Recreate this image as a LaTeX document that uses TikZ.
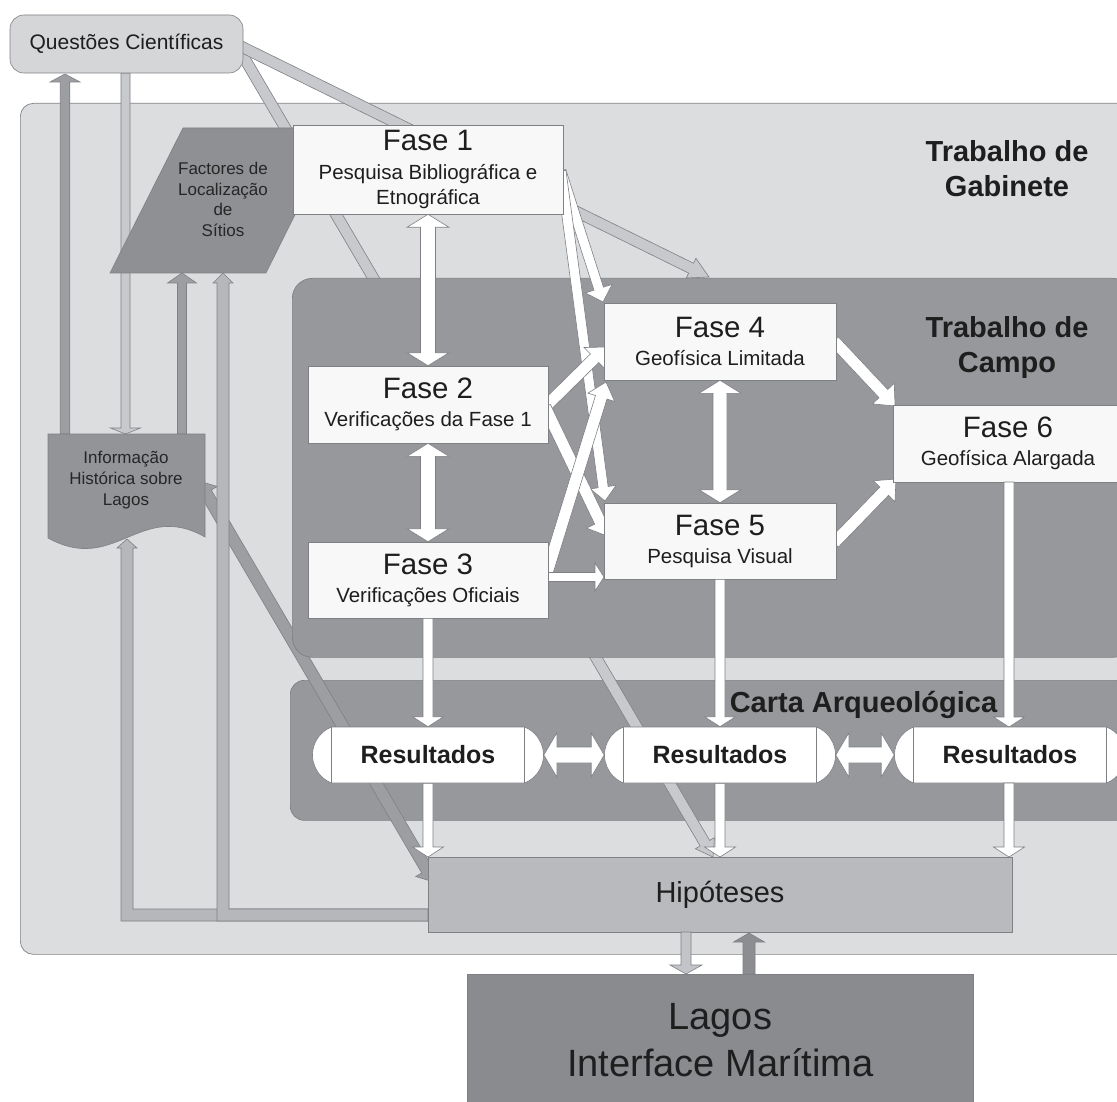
\documentclass[tikz,border=0pt]{standalone}
\usepackage{fontspec}
\setmainfont{Liberation Sans}
\usetikzlibrary{calc,shapes.misc}

\definecolor{gabbg}{HTML}{DCDDDF}
\definecolor{campobg}{HTML}{97989C}
\definecolor{edge}{HTML}{7F8084}
\definecolor{boxw}{HTML}{F8F8F8}
\definecolor{facfill}{HTML}{8F9094}
\definecolor{inffill}{HTML}{939498}
\definecolor{qfill}{HTML}{D5D6D8}
\definecolor{hipfill}{HTML}{B9BABD}
\definecolor{lagfill}{HTML}{8A8B8F}
\definecolor{lightband}{HTML}{C8C9CC}
\definecolor{darkband}{HTML}{9D9EA2}
\definecolor{midband}{HTML}{B6B7BA}
\definecolor{downband}{HTML}{C3C4C7}
\definecolor{upband}{HTML}{8C8D91}
\definecolor{txt}{HTML}{1E1E1E}

% block arrow: [style]{from}{to}{shaft half width}{head half width}{head length}
\newcommand\blockarrow[6][]{%
  \filldraw[#1]
    ($(#2)!#4!90:(#3)$) --
    ($($(#3)!#6!(#2)$)!#4!90:(#3)$) --
    ($($(#3)!#6!(#2)$)!#5!90:(#3)$) --
    (#3) --
    ($($(#3)!#6!(#2)$)!#5!-90:(#3)$) --
    ($($(#3)!#6!(#2)$)!#4!-90:(#3)$) --
    ($(#2)!#4!-90:(#3)$) -- cycle;}
\newcommand\dblockarrow[6][]{%
  \filldraw[#1]
    ($($(#2)!#6!(#3)$)!#4!90:(#3)$) --
    ($($(#3)!#6!(#2)$)!#4!90:(#3)$) --
    ($($(#3)!#6!(#2)$)!#5!90:(#3)$) --
    (#3) --
    ($($(#3)!#6!(#2)$)!#5!-90:(#3)$) --
    ($($(#3)!#6!(#2)$)!#4!-90:(#3)$) --
    ($($(#2)!#6!(#3)$)!#4!-90:(#3)$) --
    ($($(#2)!#6!(#3)$)!#5!-90:(#3)$) --
    (#2) --
    ($($(#2)!#6!(#3)$)!#5!90:(#3)$) -- cycle;}
\newcommand\ftitle{\fontsize{29.5pt}{30pt}\selectfont}

\begin{document}
\begin{tikzpicture}[x=1pt,y=-1pt,line join=miter,
  every node/.style={text=txt},
  arr/.style={draw=edge,line width=0.6pt},
  warr/.style={arr,fill=white},
  lband/.style={arr,fill=lightband},
  dband/.style={arr,fill=darkband},
  mband/.style={arr,fill=midband},
  panel/.style={draw=edge,line width=0.7pt,inner sep=0pt,anchor=north west},
  fase/.style={draw=edge,fill=boxw,line width=0.6pt,inner sep=0pt,align=center,
    font=\fontsize{20.5pt}{28pt}\selectfont},
  res/.style={rounded rectangle,rounded rectangle arc length=137,draw=edge,fill=white,
    line width=0.6pt,minimum width=231pt,minimum height=56pt,inner sep=0pt,
    font=\bfseries\fontsize{25pt}{30pt}\selectfont},
  lab/.style={font=\bfseries\fontsize{29pt}{35pt}\selectfont,align=center,inner sep=0pt},
  small/.style={font=\fontsize{17pt}{20.5pt}\selectfont,align=center,inner sep=0pt,text=black!85}
]
\fill[white] (0,0) rectangle (1117,1102);
\useasboundingbox (0,0) rectangle (1117,1102);

% panels
\node[panel,fill=gabbg,rounded corners=13pt,minimum width=1115pt,minimum height=851pt] (gab) at (20,103) {};
\node[panel,fill=campobg,rounded corners=14pt,minimum width=840pt,minimum height=140pt] (carta) at (290,680) {};

% long bands behind the field-work panel
\coordinate (qt) at (236,44);
\coordinate (campotop) at (709,277);
\coordinate (hipq) at (713,857);
\coordinate (infr) at (199,481);
\coordinate (hipl) at (434,882);
\blockarrow[lband]{qt}{hipq}{5.5pt}{11pt}{16pt}
\blockarrow[lband]{qt}{campotop}{5.5pt}{11pt}{20pt}
\dblockarrow[dband]{infr}{hipl}{6pt}{13pt}{14pt}

\node[panel,fill=campobg,rounded corners=20pt,minimum width=840pt,minimum height=379pt] (campo) at (292,278) {};

% left-side arrows
\coordinate (qb0) at (65,74);
\coordinate (qb1) at (125.5,73);
\coordinate (inft0) at (65,434);
\coordinate (inft1) at (125.5,434);
\coordinate (inft2) at (182,434);
\coordinate (facb1) at (182,273);
\blockarrow[dband]{inft0}{qb0}{4.75pt}{15pt}{8pt}
\blockarrow[lband]{qb1}{inft1}{4.5pt}{15pt}{6pt}
\blockarrow[dband]{inft2}{facb1}{4.5pt}{14.5pt}{10pt}
\filldraw[mband] (428,909) -- (133,909) -- (133,548) -- (137,548) -- (127,539) -- (117,548) -- (121,548) -- (121,921) -- (428,921) -- cycle;
\filldraw[mband] (428,909) -- (229,909) -- (229,283) -- (233,283) -- (223,273) -- (213,283) -- (217,283) -- (217,921) -- (428,921) -- cycle;

% Factores de Localizacao de Sitios
\filldraw[draw=edge,fill=facfill,line width=0.6pt] (183,128) -- (338,128) -- (266,273) -- (110,273) -- cycle;
\node[small] (fac) at (223,199.5) {Factores de\\Localização\\de\\Sítios};

% Informacao Historica sobre Lagos
\filldraw[draw=edge,fill=inffill,line width=0.6pt] (48,434) -- (205,434) -- (205,537)
  .. controls (140,500) and (115,575) .. (48,538) -- cycle;
\node[small,font=\fontsize{17pt}{21pt}\selectfont] (inf) at (126,480) {Informação\\Histórica sobre\\Lagos};

% Questoes Cientificas
\node[draw=edge,fill=qfill,line width=0.6pt,rounded corners=14pt,minimum width=233pt,minimum height=58pt,
  inner sep=0pt,font=\fontsize{21pt}{24pt}\selectfont] (q) at (126.5,44) {Questões Científicas};

% phase boxes (positions)
\coordinate (f1r) at (561,171);
\coordinate (f4nw) at (603,302);
\coordinate (f5nw) at (605,501);
\coordinate (f2r) at (545,407);
\coordinate (f4w) at (606,347);
\coordinate (f5w) at (607,536);
\coordinate (f3r) at (545,579);
\coordinate (f3rb) at (545,577);
\coordinate (f4sw) at (606,382);
\coordinate (f5sw) at (604,577);
\coordinate (f4e) at (834,341);
\coordinate (f5e) at (834,543);
\coordinate (f6nw) at (895,406);
\coordinate (f6sw) at (896,479);

\blockarrow[warr]{f1r}{f4nw}{5pt}{14pt}{14pt}
\blockarrow[warr]{f1r}{f5nw}{5pt}{13pt}{14pt}
\blockarrow[warr]{f2r}{f4w}{6pt}{15pt}{16pt}
\blockarrow[warr]{f2r}{f5w}{6pt}{15pt}{16pt}
\blockarrow[warr]{f3r}{f4sw}{6pt}{14pt}{16pt}
\blockarrow[warr]{f3rb}{f5sw}{4.5pt}{14pt}{9pt}
\blockarrow[warr]{f4e}{f6nw}{6pt}{15pt}{17pt}
\blockarrow[warr]{f5e}{f6sw}{6pt}{15pt}{17pt}

\node[fase,minimum width=270pt,minimum height=89pt,font=\fontsize{20.5pt}{25pt}\selectfont] (f1) at (428,169.5)
  {{\ftitle Fase 1}\\[4pt]Pesquisa Bibliográfica e\\Etnográfica};
\node[fase,minimum width=240pt,minimum height=77pt] (f2) at (428,404.5) {{\ftitle Fase 2}\\Verificações da Fase 1};
\node[fase,minimum width=240pt,minimum height=76pt] (f3) at (428,580) {{\ftitle Fase 3}\\Verificações Oficiais};
\node[fase,minimum width=232pt,minimum height=77pt] (f4) at (720,341.5) {{\ftitle Fase 4}\\Geofísica Limitada};
\node[fase,minimum width=232pt,minimum height=76pt] (f5) at (720,541) {{\ftitle Fase 5}\\Pesquisa Visual};
\node[fase,minimum width=230pt,minimum height=77pt] (f6) at (1008,443.5) {{\ftitle Fase 6}\\Geofísica Alargada};

\dblockarrow[warr]{f1.south}{f2.north}{7.5pt}{21pt}{13pt}
\dblockarrow[warr]{f2.south}{f3.north}{7.5pt}{21pt}{13pt}
\dblockarrow[warr]{f4.south}{f5.north}{7pt}{21pt}{13pt}

% results
\node[res] (r1) at (428,755) {Resultados};
\node[res] (r2) at (720,755) {Resultados};
\node[res] (r3) at (1010,755) {Resultados};
\foreach \r in {r1,r2,r3}{
  \draw[edge,line width=0.6pt] ($(\r.center)+(-96.5,-28)$) -- ++(0,56);
  \draw[edge,line width=0.6pt] ($(\r.center)+(96.5,-28)$) -- ++(0,56);
}

\coordinate (f6s) at (1009,482);
\coordinate (r3n) at (1009,727);
\coordinate (r3s) at (1009,783);
\coordinate (h1) at (428,857);
\coordinate (h2) at (720,857);
\coordinate (h3) at (1009,857);
\blockarrow[warr]{f3.south}{r1.north}{5pt}{15.5pt}{10pt}
\blockarrow[warr]{f5.south}{r2.north}{5pt}{15.5pt}{10pt}
\blockarrow[warr]{f6s}{r3n}{5pt}{15.5pt}{10pt}
\blockarrow[warr]{r1.south}{h1}{5pt}{15.5pt}{10pt}
\blockarrow[warr]{r2.south}{h2}{5pt}{15.5pt}{10pt}
\blockarrow[warr]{r3s}{h3}{5pt}{15.5pt}{10pt}
\dblockarrow[warr]{r1.east}{r2.west}{8pt}{22pt}{13pt}
\dblockarrow[warr]{r2.east}{r3.west}{8pt}{22pt}{13pt}

% Hipoteses and Lagos
\node[draw=edge,fill=hipfill,line width=0.6pt,minimum width=584pt,minimum height=75pt,inner sep=0pt,
  font=\fontsize{29pt}{32pt}\selectfont] (hip) at (720,894.5) {Hipóteses};
\node[panel,fill=lagfill,minimum width=506pt,minimum height=132pt,align=center,
  font=\fontsize{38pt}{47pt}\selectfont] (lagos) at (467,974) {Lagos\\Interface Marítima};

\coordinate (hd) at (686,932);
\coordinate (ld) at (686,974);
\coordinate (lu) at (749,974);
\coordinate (hu) at (749,933);
\blockarrow[arr,fill=downband]{hd}{ld}{5pt}{16pt}{9pt}
\blockarrow[arr,fill=upband]{lu}{hu}{6pt}{15.5pt}{9pt}

% labels
\node[lab] (lgab) at (1007,169) {Trabalho de\\Gabinete};
\node[lab] (lcam) at (1007,348) {Trabalho de\\Campo};
\node[lab,anchor=base] (lcar) at (863.5,712) {Carta Arqueológica};
\end{tikzpicture}
\end{document}
